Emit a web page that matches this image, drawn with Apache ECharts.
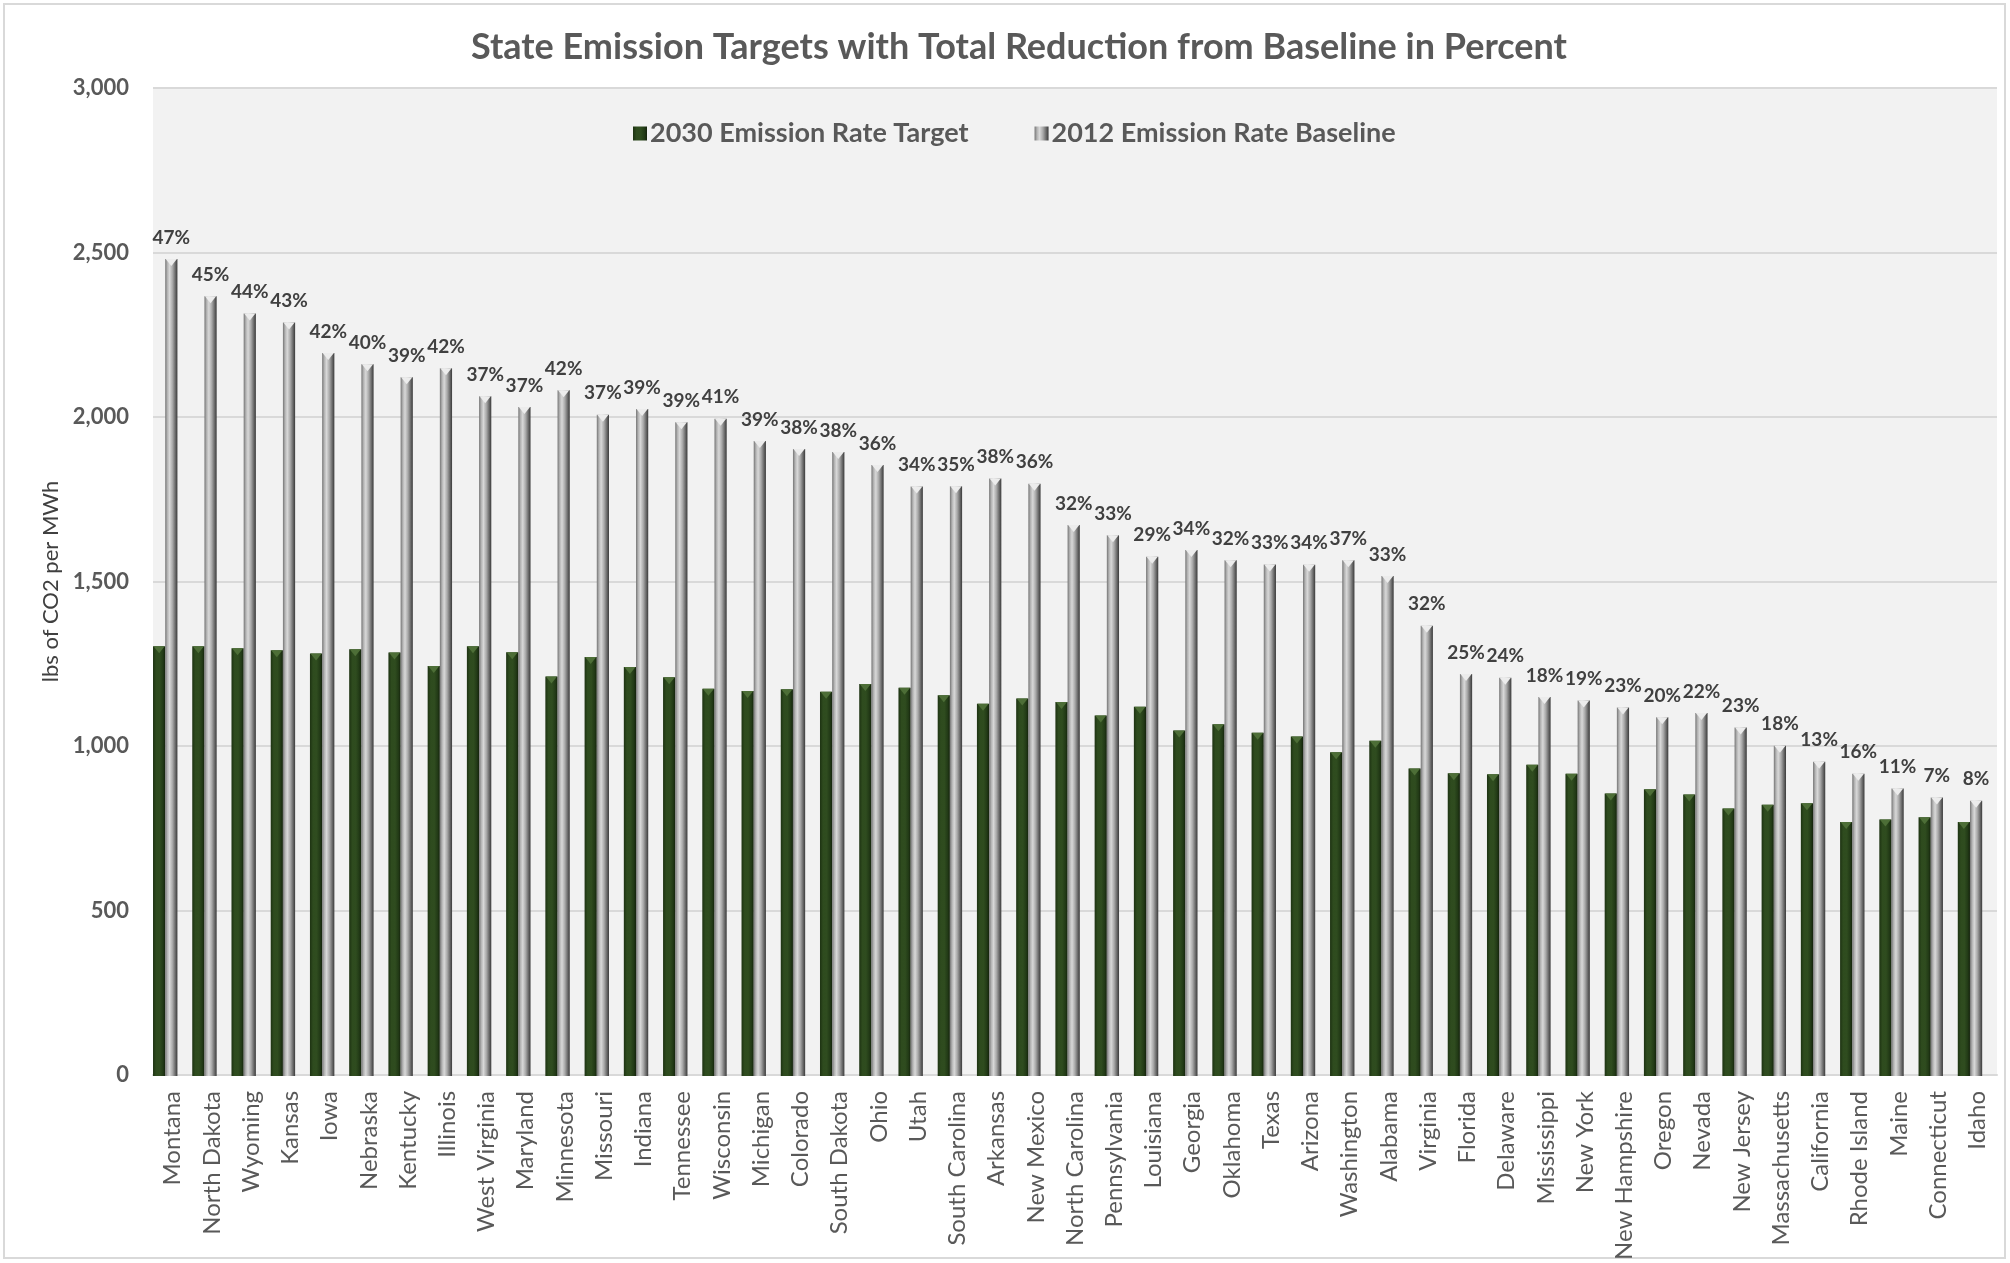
<!DOCTYPE html>
<html>
<head>
<meta charset="utf-8">
<title>State Emission Targets</title>
<script src="https://cdn.jsdelivr.net/npm/echarts@6/dist/echarts.min.js"></script>
<style>
  html, body { margin: 0; padding: 0; background: #ffffff; }
  #chart { width: 2010px; height: 1263px; }
</style>
</head>
<body>
<div id="chart"></div>
<script>
// States, ordered as plotted
const states = [
  'Montana', 'North Dakota', 'Wyoming', 'Kansas', 'Iowa', 'Nebraska', 'Kentucky', 'Illinois',
  'West Virginia', 'Maryland', 'Minnesota', 'Missouri', 'Indiana', 'Tennessee', 'Wisconsin',
  'Michigan', 'Colorado', 'South Dakota', 'Ohio', 'Utah', 'South Carolina', 'Arkansas',
  'New Mexico', 'North Carolina', 'Pennsylvania', 'Louisiana', 'Georgia', 'Oklahoma', 'Texas',
  'Arizona', 'Washington', 'Alabama', 'Virginia', 'Florida', 'Delaware', 'Mississippi',
  'New York', 'New Hampshire', 'Oregon', 'Nevada', 'New Jersey', 'Massachusetts', 'California',
  'Rhode Island', 'Maine', 'Connecticut', 'Idaho'
];

// 2030 emission rate target, lbs CO2 per MWh
const target2030 = [
  1305, 1305, 1299, 1293, 1283, 1296, 1286, 1245,
  1305, 1287, 1213, 1272, 1242, 1211, 1176,
  1169, 1174, 1167, 1190, 1179, 1156, 1130,
  1146, 1136, 1095, 1121, 1049, 1068, 1042,
  1031, 983, 1018, 934, 919, 916, 945,
  918, 858, 871, 855, 812, 824, 828,
  771, 779, 786, 771
];

// 2012 emission rate baseline, lbs CO2 per MWh
const baseline2012 = [
  2481, 2368, 2315, 2288, 2195, 2161, 2122, 2149,
  2064, 2031, 2082, 2008, 2025, 1985, 1996,
  1928, 1904, 1895, 1855, 1790, 1791, 1814,
  1798, 1673, 1642, 1577, 1597, 1566, 1553,
  1552, 1566, 1518, 1367, 1221, 1209, 1151,
  1140, 1119, 1089, 1102, 1058, 1003, 954,
  918, 873, 846, 836
];

// Total reduction from baseline, percent (label above each baseline bar)
const reductionPct = [
  47, 45, 44, 43, 42, 40, 39, 42,
  37, 37, 42, 37, 39, 39, 41,
  39, 38, 38, 36, 34, 35, 38,
  36, 32, 33, 29, 34, 32, 33,
  34, 37, 33, 32, 25, 24, 18,
  19, 23, 20, 22, 23, 18, 13,
  16, 11, 7, 8
];

// Y axis scale
const yMin = 0;
const yMax = 3000;
const yStep = 500;

const FONT = 'Lato, "Open Sans", "Noto Sans", sans-serif';
const TEXT = '#595959';

const greenFill = new echarts.graphic.LinearGradient(0, 0, 1, 0, [
  { offset: 0, color: '#1d3212' },
  { offset: 0.25, color: '#2e4b1e' },
  { offset: 0.55, color: '#2f4c1f' },
  { offset: 0.82, color: '#223a16' },
  { offset: 1, color: '#14220c' }
]);
const grayFill = new echarts.graphic.LinearGradient(0, 0, 1, 0, [
  { offset: 0, color: '#747474' },
  { offset: 0.18, color: '#b4b4b4' },
  { offset: 0.36, color: '#d8d8d8' },
  { offset: 0.6, color: '#a9a9a9' },
  { offset: 0.82, color: '#6c6c6c' },
  { offset: 1, color: '#3a3a3a' }
]);

const chart = echarts.init(document.getElementById('chart'), null, { renderer: 'canvas' });

const W = 2010, H = 1263;
const plotLeft = 153, plotRight = 1997, plotTop = 88, plotBottom = 1076;
const barShift = 7.4;   // bars sit slightly left of the category centres
const BAR_W = 12.2;

const barGrid = {
  left: plotLeft - barShift, right: W - plotRight + barShift, top: plotTop, bottom: H - plotBottom
};

chart.setOption({
  backgroundColor: '#ffffff',
  animation: false,
  title: {
    text: 'State Emission Targets with Total Reduction from Baseline in Percent',
    left: 1014,
    textAlign: 'center',
    top: 24,
    textStyle: { fontFamily: FONT, fontSize: 36, fontWeight: 'bold', color: TEXT }
  },
  legend: {
    data: ['2030 Emission Rate Target', '2012 Emission Rate Baseline'],
    left: 628,
    top: 115,
    itemWidth: 14,
    itemHeight: 14,
    itemGap: 66,
    icon: 'rect',
    textStyle: { fontFamily: FONT, fontSize: 27, fontWeight: 'bold', color: TEXT, padding: [0, 0, 0, -2] }
  },
  graphic: [{
    type: 'rect',
    shape: { x: 4, y: 4, width: W - 9, height: H - 9 },
    style: { fill: 'none', stroke: '#d9d9d9', lineWidth: 2 },
    silent: true
  }],
  grid: [
    {
      left: plotLeft, right: W - plotRight, top: plotTop, bottom: H - plotBottom,
      show: true, backgroundColor: '#f2f2f2', borderWidth: 0
    },
    barGrid,
    barGrid
  ],
  xAxis: [
    {
      type: 'category', gridIndex: 0, data: states,
      axisLine: { show: true, lineStyle: { color: '#d9d9d9', width: 2 } },
      axisTick: { show: false },
      axisLabel: {
        rotate: 90, interval: 0, margin: 16,
        fontFamily: FONT, fontSize: 24, color: TEXT
      }
    },
    { type: 'category', gridIndex: 1, data: states, show: false },
    { type: 'category', gridIndex: 2, data: states, show: false }
  ],
  yAxis: [
    {
      type: 'value', gridIndex: 0, min: yMin, max: yMax, interval: yStep,
      name: 'lbs of CO2 per MWh',
      nameLocation: 'middle', nameGap: 90, nameRotate: 90,
      nameTextStyle: { fontFamily: FONT, fontSize: 22, color: '#404040' },
      axisLine: { show: false }, axisTick: { show: false },
      splitLine: { lineStyle: { color: '#d9d9d9', width: 2 } },
      axisLabel: {
        margin: 24, fontFamily: FONT, fontSize: 22, fontWeight: 'bold', color: TEXT,
        formatter: v => v.toLocaleString('en-US')
      }
    },
    {
      type: 'value', gridIndex: 1, min: yMin, max: yMax, interval: yStep, show: false,
      splitLine: { show: false }
    },
    {
      type: 'value', gridIndex: 2, min: yMin, max: yMax, interval: yStep, show: false,
      splitLine: { show: false }
    }
  ],
  series: [
    {
      name: '2030 Emission Rate Target',
      type: 'bar', xAxisIndex: 1, yAxisIndex: 1,
      data: target2030,
      barWidth: BAR_W, barGap: '0%',
      itemStyle: { color: greenFill }
    },
    {
      name: '2012 Emission Rate Baseline',
      type: 'bar', xAxisIndex: 1, yAxisIndex: 1,
      data: baseline2012,
      barWidth: BAR_W, barGap: '0%',
      itemStyle: { color: grayFill },
      label: {
        show: true, position: 'top', distance: 12,
        fontFamily: FONT, fontSize: 19, fontWeight: 'bold', color: '#404040',
        formatter: p => reductionPct[p.dataIndex] + '%'
      }
    },
    // bevelled column caps
    {
      name: 'target cap',
      type: 'pictorialBar', xAxisIndex: 2, yAxisIndex: 2,
      data: target2030,
      barWidth: BAR_W, barGap: '0%',
      symbol: 'triangle', symbolRotate: 180,
      symbolSize: [BAR_W - 1, 7], symbolPosition: 'end',
      itemStyle: { color: '#4d6e37' },
      silent: true, z: 3
    },
    {
      name: 'baseline cap',
      type: 'pictorialBar', xAxisIndex: 2, yAxisIndex: 2,
      data: baseline2012,
      barWidth: BAR_W, barGap: '0%',
      symbol: 'triangle', symbolRotate: 180,
      symbolSize: [BAR_W - 1, 7], symbolPosition: 'end',
      itemStyle: { color: '#ececec' },
      silent: true, z: 3
    }
  ]
});
</script>
</body>
</html>
